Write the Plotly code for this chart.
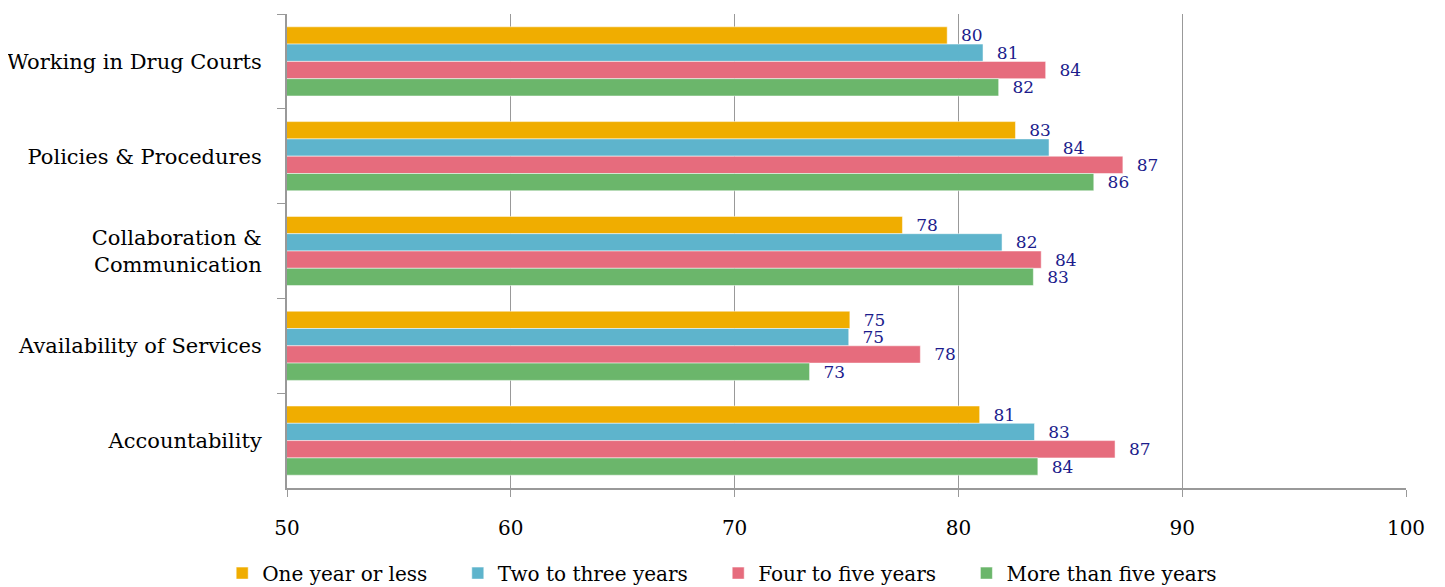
import plotly.graph_objects as go

categories = ["Working in Drug Courts", "Policies & Procedures", "Collaboration &<br>Communication",
              "Availability of Services", "Accountability"]
series_names = ["One year or less", "Two to three years", "Four to five years", "More than five years"]
one_year = [79.5, 82.55, 77.5, 75.15, 80.95]
two_three = [81.1, 84.05, 81.95, 75.1, 83.4]
four_five = [83.9, 87.35, 83.7, 78.3, 87.0]
more_five = [81.8, 86.05, 83.35, 73.35, 83.55]
colors = ["#F0AD00", "#5EB4CC", "#E66C7D", "#6BB66B"]
x_ticks = [50, 60, 70, 80, 90, 100]

FONT = "DejaVu Serif"
PAD = "\u00a0" * 4
fig = go.Figure()
all_vals = [one_year, two_three, four_five, more_five]
for i, (name, vals, col) in enumerate(zip(series_names, all_vals, colors)):
    fig.add_trace(go.Bar(
        y=categories, x=vals, name=name + (PAD if i < len(series_names) - 1 else ""),
        orientation="h",
        marker=dict(color=col, line=dict(color="rgba(255,255,255,0.5)", width=1)),
        text=["\u00a0\u00a0" + str(int(round(v))) for v in vals],
        textposition="outside", cliponaxis=False, constraintext="none",
        textfont=dict(family=FONT, size=17, color="#1C1C8C"),
        base=0,
    ))

fig.update_layout(
    barmode="group", bargap=0.27, bargroupgap=0,
    width=1437, height=579,
    margin=dict(l=279, r=39, t=6, b=99, autoexpand=False),
    plot_bgcolor="white", paper_bgcolor="white",
    font=dict(family=FONT, size=20, color="black"),
    legend=dict(orientation="h", xref="container", x=0.497, xanchor="center",
                yref="container", y=0.024, yanchor="middle",
                font=dict(family=FONT, size=20), traceorder="normal"),
)
fig.update_xaxes(range=[50, 100], tickvals=x_ticks, showgrid=True, gridcolor="#999999", gridwidth=1,
                 showline=True, linecolor="#999999", linewidth=2, ticks="outside", ticklen=7,
                 tickcolor="#999999", ticklabelstandoff=14, zeroline=False,
                 tickfont=dict(family=FONT, size=20))
fig.update_yaxes(autorange="reversed", showline=True, linecolor="#999999", linewidth=2,
                 ticks="outside", ticklen=8, tickcolor="#999999", tickson="boundaries",
                 ticklabelstandoff=19, showgrid=False,
                 tickfont=dict(family=FONT, size=21))
fig.write_html("out.html")
